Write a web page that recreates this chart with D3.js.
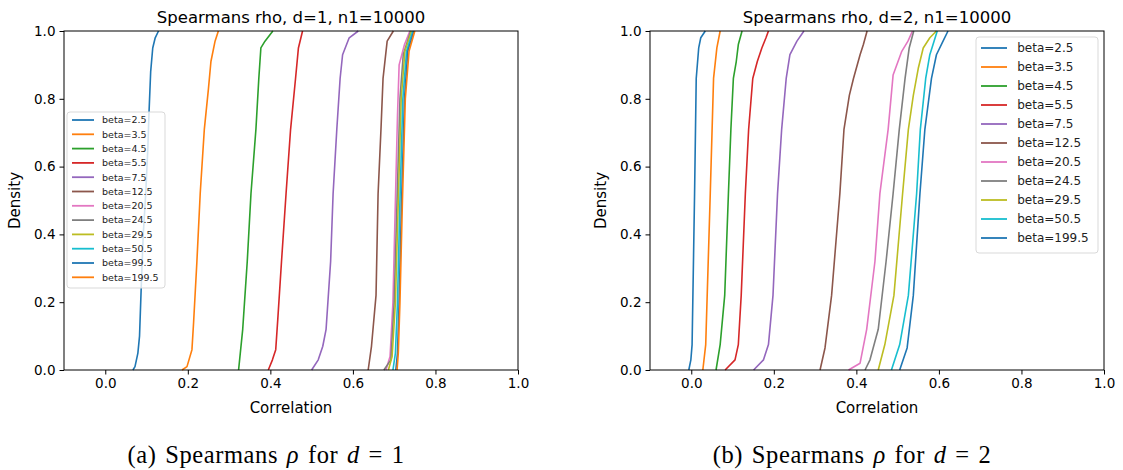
<!DOCTYPE html>
<html>
<head>
<meta charset="utf-8">
<script src="https://cdn.jsdelivr.net/npm/d3@7"></script>
<style>
  body { margin: 0; background: #fff; }
  svg { display: block; font-family: "DejaVu Sans", sans-serif; }
</style>
</head>
<body>
<svg></svg>
<script>
const width = 1123;
const height = 470;

// tab10 colour cycle
const colors = ["#1f77b4", "#ff7f0e", "#2ca02c", "#d62728", "#9467bd",
                "#8c564b", "#e377c2", "#7f7f7f", "#bcbd22", "#17becf"];

const xTicks = [0.0, 0.2, 0.4, 0.6, 0.8, 1.0];
const yTicks = [0.0, 0.2, 0.4, 0.6, 0.8, 1.0];

// d=1 : betas and their curves, each point is [correlation, density]
const betasD1 = ["2.5", "3.5", "4.5", "5.5", "7.5", "12.5", "20.5", "24.5", "29.5", "50.5", "99.5", "199.5"];
const curvesD1 = [
  [[0.067,0],[0.072,0.01],[0.079,0.05],[0.083,0.1],[0.087,0.24],[0.092,0.4],[0.098,0.52],[0.103,0.65],[0.106,0.76],[0.110,0.88],[0.115,0.95],[0.121,0.98],[0.129,1]],
  [[0.186,0],[0.198,0.01],[0.210,0.06],[0.214,0.14],[0.222,0.32],[0.230,0.52],[0.240,0.71],[0.250,0.83],[0.256,0.91],[0.266,0.97],[0.274,1]],
  [[0.323,0],[0.333,0.12],[0.344,0.32],[0.353,0.52],[0.365,0.71],[0.372,0.86],[0.377,0.95],[0.387,0.97],[0.406,1]],
  [[0.395,0],[0.405,0.03],[0.413,0.06],[0.418,0.15],[0.427,0.32],[0.438,0.52],[0.449,0.71],[0.461,0.86],[0.468,0.95],[0.478,1]],
  [[0.500,0],[0.516,0.03],[0.527,0.07],[0.535,0.12],[0.546,0.32],[0.552,0.52],[0.561,0.71],[0.569,0.86],[0.575,0.93],[0.591,0.98],[0.613,1]],
  [[0.637,0],[0.645,0.07],[0.656,0.22],[0.661,0.52],[0.668,0.71],[0.673,0.86],[0.683,0.97],[0.698,1]],
  [[0.680,0],[0.690,0.04],[0.697,0.2],[0.703,0.5],[0.708,0.75],[0.712,0.9],[0.725,0.96],[0.738,1]],
  [[0.675,0],[0.692,0.03],[0.700,0.2],[0.707,0.5],[0.714,0.8],[0.722,0.93],[0.740,1]],
  [[0.686,0],[0.695,0.04],[0.703,0.2],[0.710,0.5],[0.717,0.8],[0.726,0.94],[0.742,1]],
  [[0.697,0],[0.703,0.05],[0.708,0.2],[0.714,0.5],[0.721,0.8],[0.730,0.94],[0.745,1]],
  [[0.704,0],[0.708,0.05],[0.712,0.2],[0.718,0.5],[0.725,0.8],[0.733,0.94],[0.748,1]],
  [[0.707,0],[0.710,0.05],[0.714,0.2],[0.720,0.5],[0.727,0.8],[0.736,0.94],[0.750,1]]
];

// d=2
const betasD2 = ["2.5", "3.5", "4.5", "5.5", "7.5", "12.5", "20.5", "24.5", "29.5", "50.5", "199.5"];
const curvesD2 = [
  [[-0.006,0],[-0.001,0.03],[0.002,0.075],[0.008,0.52],[0.012,0.86],[0.018,0.95],[0.023,0.98],[0.034,1]],
  [[0.028,0],[0.035,0.075],[0.046,0.52],[0.054,0.86],[0.062,0.95],[0.070,1]],
  [[0.060,0],[0.070,0.075],[0.081,0.22],[0.090,0.52],[0.096,0.71],[0.102,0.86],[0.109,0.91],[0.114,0.96],[0.123,1]],
  [[0.082,0],[0.106,0.03],[0.114,0.075],[0.121,0.22],[0.131,0.52],[0.139,0.71],[0.149,0.86],[0.160,0.91],[0.171,0.95],[0.181,0.98],[0.187,1]],
  [[0.151,0],[0.175,0.03],[0.187,0.075],[0.198,0.22],[0.209,0.52],[0.219,0.71],[0.230,0.86],[0.239,0.93],[0.256,0.97],[0.273,1]],
  [[0.312,0],[0.324,0.065],[0.340,0.22],[0.360,0.52],[0.370,0.71],[0.383,0.81],[0.393,0.86],[0.409,0.93],[0.417,0.96],[0.426,1]],
  [[0.381,0],[0.409,0.02],[0.425,0.12],[0.445,0.32],[0.457,0.52],[0.477,0.71],[0.489,0.87],[0.510,0.94],[0.525,0.97],[0.536,1]],
  [[0.421,0],[0.433,0.03],[0.453,0.12],[0.472,0.32],[0.489,0.52],[0.504,0.71],[0.518,0.86],[0.528,0.95],[0.539,1]],
  [[0.453,0],[0.469,0.075],[0.491,0.22],[0.512,0.52],[0.526,0.71],[0.538,0.81],[0.550,0.89],[0.562,0.95],[0.578,0.98],[0.594,1]],
  [[0.485,0],[0.505,0.075],[0.526,0.22],[0.546,0.52],[0.555,0.71],[0.568,0.86],[0.578,0.93],[0.596,1]],
  [[0.505,0],[0.523,0.065],[0.538,0.22],[0.554,0.52],[0.566,0.71],[0.582,0.86],[0.594,0.93],[0.610,0.97],[0.622,1]]
];

const svg = d3.select("svg")
              .attr("width", width)
              .attr("height", height);

const panels = [
  {left: 64, right: 518, top: 31, bottom: 370, d: 1, tag: "(a)", betas: betasD1, curves: curvesD1,
   legend: {x: 67, y: 112, w: 98, h: 176, step: 14.3, font: 9.5, line: 22, pad: 8}},
  {left: 650, right: 1104, top: 31, bottom: 370, d: 2, tag: "(b)", betas: betasD2, curves: curvesD2,
   legend: {x: 976, y: 37, w: 122, h: 216, step: 19, font: 12, line: 26, pad: 11}}
];

panels.forEach(p => {
  const x = d3.scaleLinear().domain([-0.1, 1.0]).range([p.left, p.right]);
  const y = d3.scaleLinear().domain([0, 1]).range([p.bottom, p.top]);

  const g = svg.append("g");

  // curves
  const line = d3.line().x(d => x(d[0])).y(d => y(d[1]));
  g.append("g")
   .selectAll("path")
   .data(p.curves)
   .enter()
   .append("path")
   .attr("d", line)
   .attr("fill", "none")
   .attr("stroke", (d, i) => colors[i % 10])
   .attr("stroke-width", 1.6)
   .attr("stroke-linejoin", "round");

  // axes
  const xAxis = g.append("g")
                 .attr("transform", "translate(0," + p.bottom + ")")
                 .call(d3.axisBottom(x).tickValues(xTicks).tickFormat(d3.format(".1f")).tickSize(4.5).tickPadding(4));
  const yAxis = g.append("g")
                 .attr("transform", "translate(" + p.left + ",0)")
                 .call(d3.axisLeft(y).tickValues(yTicks).tickFormat(d3.format(".1f")).tickSize(4.5).tickPadding(4));
  [xAxis, yAxis].forEach(a => {
    a.select(".domain").remove();
    a.selectAll("text").style("font-size", "13.5px").style("font-family", "DejaVu Sans").attr("fill", "#000");
    a.selectAll("line").attr("stroke", "#000");
  });

  g.append("rect")
   .attr("x", p.left)
   .attr("y", p.top)
   .attr("width", p.right - p.left)
   .attr("height", p.bottom - p.top)
   .attr("fill", "none")
   .attr("stroke", "#000")
   .attr("stroke-width", 1);

  const cx = (p.left + p.right) / 2;

  g.append("text")
   .attr("x", cx)
   .attr("y", 23)
   .attr("text-anchor", "middle")
   .style("font-size", "16.5px")
   .text("Spearmans rho, d=" + p.d + ", n1=10000");

  g.append("text")
   .attr("x", cx)
   .attr("y", 413)
   .attr("text-anchor", "middle")
   .style("font-size", "15px")
   .text("Correlation");

  g.append("text")
   .attr("transform", "translate(" + (p.left - 44) + "," + ((p.top + p.bottom) / 2) + ") rotate(-90)")
   .attr("text-anchor", "middle")
   .style("font-size", "15px")
   .text("Density");

  // caption
  const cap = g.append("text")
               .attr("x", cx - 25)
               .attr("y", 463)
               .attr("text-anchor", "middle")
               .style("font-family", "Liberation Serif, serif")
               .style("font-size", "24.5px")
               .style("letter-spacing", "0.6px")
               .style("word-spacing", "2px");
  cap.append("tspan").text(p.tag + " Spearmans ");
  cap.append("tspan").style("font-style", "italic").text("ρ");
  cap.append("tspan").text(" for ");
  cap.append("tspan").style("font-style", "italic").text("d");
  cap.append("tspan").text("  =  " + p.d);

  // legend
  const L = p.legend;
  const lg = g.append("g");
  lg.append("rect")
    .attr("x", L.x)
    .attr("y", L.y)
    .attr("width", L.w)
    .attr("height", L.h)
    .attr("rx", 3)
    .attr("fill", "#fff")
    .attr("fill-opacity", 0.8)
    .attr("stroke", "#d9d9d9");
  const items = lg.selectAll("g.item")
                  .data(p.betas)
                  .enter()
                  .append("g")
                  .attr("transform", (d, i) => "translate(" + (L.x + 5) + "," + (L.y + L.pad + i * L.step) + ")");
  items.append("line")
       .attr("x1", 0).attr("x2", L.line)
       .attr("stroke", (d, i) => colors[i % 10])
       .attr("stroke-width", 1.8);
  items.append("text")
       .attr("x", L.line + L.font * 0.85)
       .attr("dy", "0.35em")
       .style("font-size", L.font + "px")
       .attr("fill", "#222")
       .text(d => "beta=" + d);
});
</script>
</body>
</html>
